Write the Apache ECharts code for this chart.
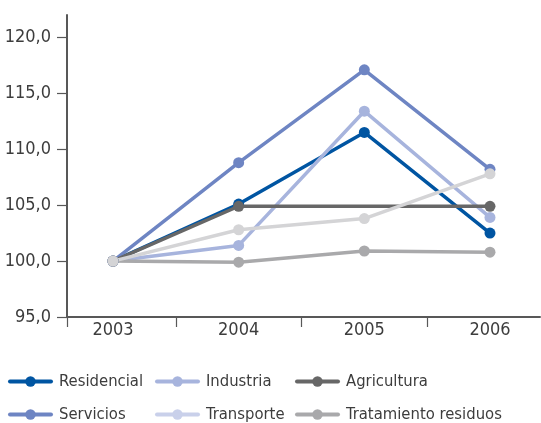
<!DOCTYPE html>
<html>
<head>
<meta charset="utf-8">
<script src="https://cdn.jsdelivr.net/npm/echarts@6/dist/echarts.min.js"></script>
<style>
html,body{margin:0;padding:0;background:#fff;}
#c{width:541px;height:423px;}
</style>
</head>
<body>
<div id="c"></div>
<script>
const years = ['2003', '2004', '2005', '2006'];
const yTicks = [95, 100, 105, 110, 115, 120];
const residencial = [100.0, 105.1, 111.5, 102.5];
const servicios = [100.0, 108.8, 117.1, 108.2];
const industria = [100.0, 101.4, 113.4, 103.9];
const transporte = [100.0, 102.8, 103.8, 107.8];
const agricultura = [100.0, 104.9, null, 104.9];
const tratamiento = [100.0, 99.9, 100.9, 100.8];

const FONT = "'Liberation Sans Narrow', 'DejaVu Sans Condensed', 'Liberation Sans', sans-serif";
const TXT = '#3d3d3d';
const AX = '#585858';

function pts(arr) { return arr.map((v, i) => [i, v == null ? NaN : v]); }

function line(name, arr, color, extra) {
  return Object.assign({
    name: name, type: 'line', data: pts(arr),
    symbol: 'circle', symbolSize: 11, showAllSymbol: true,
    lineStyle: { width: 3.5, color: color, cap: 'round', join: 'round' },
    itemStyle: { color: color },
    emphasis: { disabled: true },
    z: 2
  }, extra || {});
}

const legendBase = {
  orient: 'vertical', top: 373, height: 50, padding: 0, itemGap: 16,
  itemWidth: 41, itemHeight: 13,
  lineStyle: { width: 4 },
  textStyle: { fontFamily: FONT, fontSize: 16.5, color: TXT, lineHeight: 16, padding: [0, 0, 0, 3] },
  selectedMode: false
};

const chart = echarts.init(document.getElementById('c'), null, { renderer: 'canvas' });
chart.setOption({
  animation: false,
  backgroundColor: '#fff',
  grid: { left: 67, right: 1, top: 15, bottom: 106, containLabel: false, outerBoundsMode: 'none' },
  xAxis: {
    type: 'value', min: -0.366, max: 3.398,
    axisLine: { show: true, onZero: false, lineStyle: { color: AX, width: 2 } },
    axisTick: { show: true, length: 10, lineStyle: { color: AX, width: 1.2 }, customValues: [-0.366, 0.5, 1.5, 2.5] },
    axisLabel: {
      customValues: [0, 1, 2, 3],
      formatter: v => years[Math.round(v)],
      fontFamily: FONT, fontSize: 18, color: TXT, margin: 4
    },
    splitLine: { show: false }
  },
  yAxis: {
    type: 'value', min: 95, max: 122,
    axisLine: { show: true, onZero: false, lineStyle: { color: AX, width: 2 } },
    axisTick: { show: true, length: 10, lineStyle: { color: AX, width: 1.2 }, customValues: yTicks },
    axisLabel: {
      customValues: yTicks,
      formatter: v => v.toFixed(1).replace('.', ','),
      fontFamily: FONT, fontSize: 18, color: TXT, margin: 16
    },
    splitLine: { show: false }
  },
  legend: [
    Object.assign({}, legendBase, { left: 8, data: ['Residencial', 'Servicios'] }),
    Object.assign({}, legendBase, { left: 155, data: ['Industria', { name: 'Transporte', itemStyle: { color: '#c9d0ea' }, lineStyle: { color: '#c9d0ea', width: 4 } }] }),
    Object.assign({}, legendBase, { left: 295, data: ['Agricultura', 'Tratamiento residuos'] })
  ],
  series: [
    line('Residencial', residencial, '#0055a2'),
    line('Industria', industria, '#a7b4dd'),
    line('Servicios', servicios, '#6e85c3'),
    line('Agricultura', agricultura, '#676767', { connectNulls: true }),
    line('Tratamiento residuos', tratamiento, '#a9a9ab'),
    line('Transporte', transporte, '#d4d4d6')
  ]
});
</script>
</body>
</html>
